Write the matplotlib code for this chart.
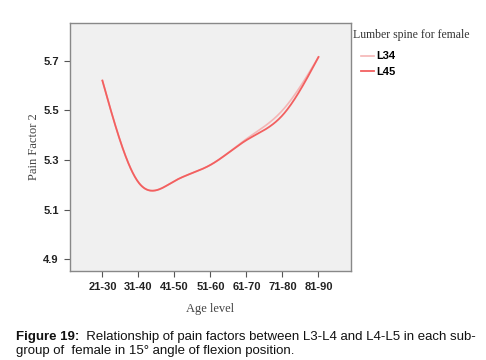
import numpy as np
import matplotlib
matplotlib.use("Agg")
import matplotlib.pyplot as plt
from matplotlib.lines import Line2D

categories = ["21-30", "31-40", "41-50", "51-60", "61-70", "71-80", "81-90"]
l34 = [5.62, 5.21, 5.215, 5.28, 5.385, 5.50, 5.715]
l45 = [5.62, 5.21, 5.215, 5.28, 5.38, 5.48, 5.715]
yticks = [4.9, 5.1, 5.3, 5.5, 5.7]


def natural_spline(x, y, n=300):
    x = np.asarray(x, float); y = np.asarray(y, float)
    k = len(x); h = np.diff(x)
    A = np.zeros((k, k)); b = np.zeros(k)
    A[0, 0] = A[-1, -1] = 1
    for i in range(1, k - 1):
        A[i, i - 1] = h[i - 1]; A[i, i] = 2 * (h[i - 1] + h[i]); A[i, i + 1] = h[i]
        b[i] = 3 * ((y[i + 1] - y[i]) / h[i] - (y[i] - y[i - 1]) / h[i - 1])
    c = np.linalg.solve(A, b)
    xs = np.linspace(x[0], x[-1], n); ys = np.empty_like(xs)
    for j, xv in enumerate(xs):
        i = min(np.searchsorted(x, xv, side="right") - 1, k - 2)
        d = xv - x[i]
        bi = (y[i + 1] - y[i]) / h[i] - h[i] * (2 * c[i] + c[i + 1]) / 3
        di = (c[i + 1] - c[i]) / (3 * h[i])
        ys[j] = y[i] + bi * d + c[i] * d ** 2 + di * d ** 3
    return xs, ys


fig = plt.figure(figsize=(4.86, 3.6), dpi=100)
ax = fig.add_axes([0.144, 0.247, 0.578, 0.689])
ax.set_facecolor("#f0f0f0")
x = np.arange(len(categories))
c34 = "#f5b5b5"
c45 = "#f26060"
xs, ys = natural_spline(x, l34)
ax.plot(xs, ys, color=c34, lw=1.2)
xs, ys = natural_spline(x, l45)
ax.plot(xs, ys, color=c45, lw=1.3)

ax.set_xlim(-0.9, 6.9)
ax.set_ylim(4.852, 5.852)
ax.set_xticks(x)
ax.set_xticklabels(categories)
ax.set_yticks(yticks)
ax.set_yticklabels([f"{v:.1f}" for v in yticks])
for lab in ax.get_xticklabels() + ax.get_yticklabels():
    lab.set_fontfamily("Liberation Sans")
    lab.set_fontweight("bold")
    lab.set_fontsize(8)
    lab.set_color("#222222")
ax.tick_params(length=4, width=0.8, color="#555555", pad=4)
for s in ax.spines.values():
    s.set_color("#888888"); s.set_linewidth(1.0)

ax.set_xlabel("Age level", family="Liberation Serif", fontsize=9, color="#444444", labelpad=8)
ax.set_ylabel("Pain Factor 2", family="Liberation Serif", fontsize=9, color="#444444", labelpad=2)

fig.text(0.727, 0.903, "Lumber spine for female", family="Liberation Serif", fontsize=8.5,
         color="#333333", va="center")
handles = [Line2D([], [], color=c34, lw=1.2), Line2D([], [], color=c45, lw=1.3)]
fig.legend(handles, ["L34", "L45"], loc="upper left", bbox_to_anchor=(0.722, 0.885),
           frameon=False, handlelength=1.2, handletextpad=0.2, labelspacing=0.5,
           prop={"family": "Liberation Sans", "weight": "bold", "size": 8})

cap_size = 9.5
t1 = fig.text(0.032, 0.064, "Figure 19:", family="Liberation Sans", fontweight="bold",
              fontsize=cap_size, color="#111111", va="center")
fig.canvas.draw()
bb = t1.get_window_extent(fig.canvas.get_renderer())
x_end = bb.x1 / fig.bbox.width
fig.text(x_end, 0.064, "  Relationship of pain factors between L3-L4 and L4-L5 in each sub-",
         family="Liberation Sans", fontsize=cap_size, color="#111111", va="center")
fig.text(0.032, 0.025, "group of  female in 15° angle of flexion position.",
         family="Liberation Sans", fontsize=cap_size, color="#111111", va="center")

fig.savefig("out.png", dpi=100, facecolor="white")
